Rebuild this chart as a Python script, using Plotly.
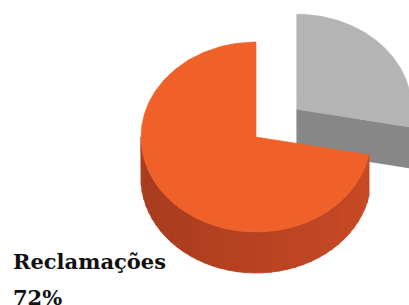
import numpy as np
import plotly.graph_objects as go

# ---- data ----
categories = ["Outros", "Reclamações"]
values = [28, 72]
label_lines = ["Reclamações", "72%"]

# ---- styling ----
top_colors = ["#B4B4B4", "#F0612A"]
cut_colors = ["#878787", "#B8431F"]
side_left = np.array([0xA9, 0x3C, 0x20])
side_right = np.array([0xC8, 0x4A, 0x25])
gray_side = "#8A8A8A"

W, H = 409, 305
cx, cy = 256, 137
rx, ry = 115, 95
depth = 41
explode = [0.46, 0.0]

fig = go.Figure()

def pt(a, ox, oy):
    r = np.radians(a)
    return ox + rx * np.cos(r), oy - ry * np.sin(r)

total = sum(values)
# slices go clockwise from 12 o'clock
start = 90.0
slices = []
for v, e in zip(values, explode):
    span = 360.0 * v / total
    a1 = start
    a0 = start - span
    mid = np.radians((a0 + a1) / 2)
    ox = cx + e * rx * np.cos(mid)
    oy = cy - e * ry * np.sin(mid)
    slices.append((a0, a1, ox, oy))
    start = a0

def add_poly(xs, ys, color, lw=0.6):
    fig.add_trace(go.Scatter(x=list(xs) + [xs[0]], y=list(ys) + [ys[0]], mode="lines",
                             fill="toself", fillcolor=color,
                             line=dict(color=color, width=lw),
                             hoverinfo="skip", showlegend=False))

# draw gray (exploded) first, then orange in front
for i in range(len(values)):
    a0, a1, ox, oy = slices[i]
    ex, ey = pt(a0, ox, oy)
    if i == 0:
        add_poly([ox, ex + 20, ex + 20, ox], [oy, ey + 3.2, ey + 3.2 + depth, oy + depth], cut_colors[i])
    lo = a0 % 360
    hi = lo + (a1 - a0)
    vis_lo = max(lo, 180.0)
    vis_hi = min(hi, 360.0)
    if vis_hi > vis_lo:
        n = 40
        edges = np.linspace(vis_lo, vis_hi, n + 1)
        for k in range(n):
            aa = np.linspace(edges[k], edges[k + 1] + 0.3, 6)
            xs_t = [pt(a, ox, oy)[0] for a in aa]
            ys_t = [pt(a, ox, oy)[1] for a in aa]
            xs = xs_t + xs_t[::-1]
            ys = ys_t + [y + depth for y in ys_t[::-1]]
            if i == 1:
                t = (np.cos(np.radians((edges[k] + edges[k + 1]) / 2)) + 1) / 2
                c = side_left + (side_right - side_left) * t
                col = "rgb(%d,%d,%d)" % tuple(c.astype(int))
            else:
                col = gray_side
            add_poly(xs, ys, col, lw=0.8)
    aa = np.linspace(a0, a1, 200)
    xs = [ox] + [pt(a, ox, oy)[0] for a in aa]
    ys = [oy] + [pt(a, ox, oy)[1] for a in aa]
    add_poly(xs, ys, top_colors[i])

# label for Reclamações
font = dict(family="DejaVu Serif", size=21, color="#111111")
fig.add_annotation(x=11, y=261, text="<b>" + label_lines[0] + "</b>", showarrow=False,
                   xanchor="left", yanchor="middle", font=font)
fig.add_annotation(x=11, y=297, text="<b>" + label_lines[1] + "</b>", showarrow=False,
                   xanchor="left", yanchor="middle", font=font)

fig.update_layout(
    width=W, height=H,
    margin=dict(l=0, r=0, t=0, b=0),
    paper_bgcolor="white", plot_bgcolor="white",
    xaxis=dict(range=[0, W], visible=False, fixedrange=True),
    yaxis=dict(range=[H, 0], visible=False, fixedrange=True),
    showlegend=False,
)
fig.write_html("out.html", config={"displayModeBar": False},
               post_script="document.body.style.margin='0';document.body.style.overflow='hidden';")
